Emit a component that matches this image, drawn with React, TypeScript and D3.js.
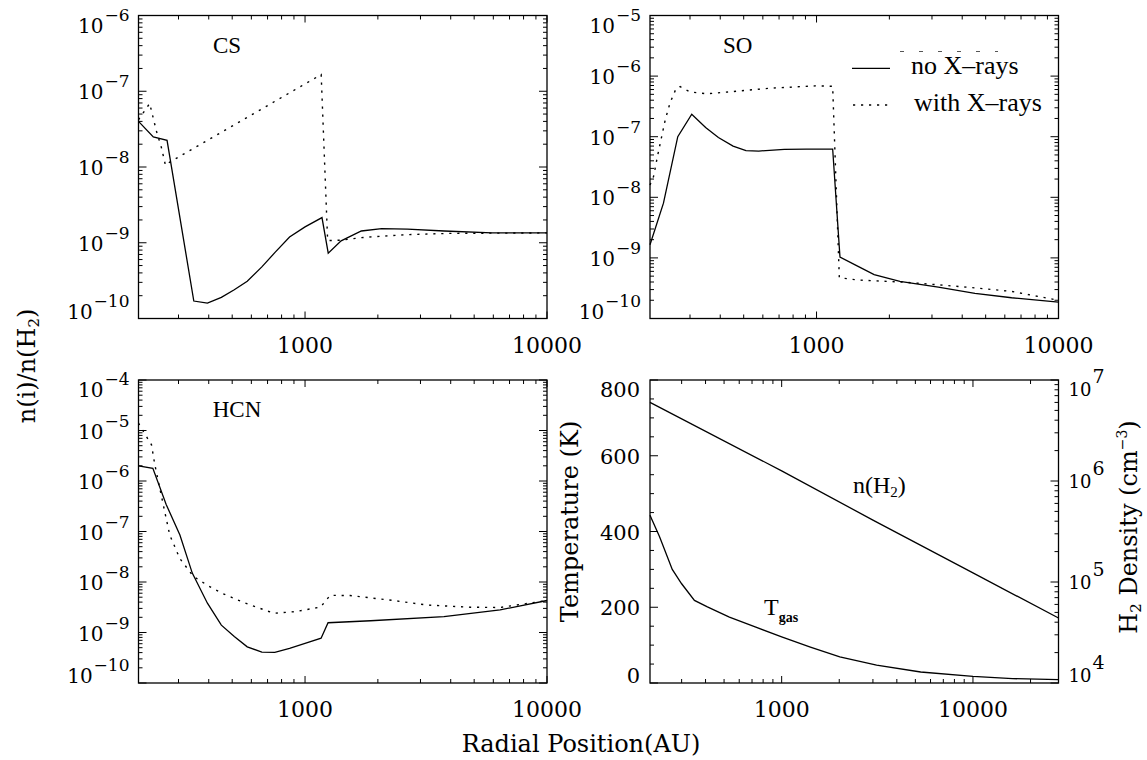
import * as d3 from 'd3';

type Pt = [number, number];

// radius (AU), fractional abundance n(i)/n(H2)
const csNoXrays: Pt[] = [
  [205, 4.0e-8], [236, 2.5e-8], [269, 2.25e-8], [347, 1.7e-10], [395, 1.6e-10],
  [451, 1.9e-10], [510, 2.4e-10], [577, 3.1e-10], [663, 4.8e-10], [750, 7.4e-10],
  [863, 1.19e-9], [1000, 1.62e-9], [1175, 2.15e-9], [1247, 7.3e-10], [1410, 1.06e-9],
  [1709, 1.43e-9], [2074, 1.54e-9], [2650, 1.51e-9], [3760, 1.43e-9], [5930, 1.35e-9],
  [10000, 1.35e-9],
];
const csWithXrays: Pt[] = [
  [205, 4.2e-8], [228, 6.9e-8], [243, 3.0e-8], [255, 1.8e-8], [265, 1.05e-8],
  [276, 1.16e-8], [1166, 1.66e-7], [1240, 1.07e-9], [1410, 1.08e-9], [1709, 1.17e-9],
  [2074, 1.22e-9], [2650, 1.28e-9], [4000, 1.33e-9], [10000, 1.35e-9],
];

const soNoXrays: Pt[] = [
  [205, 1.65e-9], [233, 8e-9], [267, 1.0e-7], [305, 2.35e-7], [348, 1.42e-7],
  [393, 9.7e-8], [452, 7.0e-8], [511, 5.9e-8], [577, 5.8e-8], [736, 6.2e-8],
  [908, 6.25e-8], [1166, 6.25e-8], [1250, 1.03e-9], [1478, 7.3e-10], [1730, 5.3e-10],
  [2210, 4.1e-10], [3185, 3.3e-10], [4515, 2.6e-10], [6400, 2.2e-10], [10000, 1.86e-10],
];
const soWithXrays: Pt[] = [
  [205, 1.6e-8], [212, 2.2e-8], [220, 4.7e-8], [237, 1.9e-7], [248, 3.6e-7],
  [263, 6.3e-7], [273, 6.7e-7], [300, 5.5e-7], [351, 5.1e-7], [437, 5.5e-7],
  [638, 6.3e-7], [986, 6.9e-7], [1166, 6.8e-7], [1242, 4.7e-10], [1500, 4.3e-10],
  [2250, 4.0e-10], [3185, 3.6e-10], [4515, 3.2e-10], [6400, 2.8e-10], [10000, 2.0e-10],
];

const hcnNoXrays: Pt[] = [
  [205, 2.0e-6], [235, 1.78e-6], [267, 3.4e-7], [304, 8.5e-8], [342, 1.5e-8],
  [395, 3.8e-9], [451, 1.4e-9], [510, 8.3e-10], [577, 5.2e-10], [663, 4.1e-10],
  [750, 4.05e-10], [863, 4.85e-10], [1000, 6.1e-10], [1165, 7.7e-10], [1245, 1.56e-9],
  [1866, 1.71e-9], [3750, 2.06e-9], [6400, 2.8e-9], [7580, 3.3e-9], [10000, 4.3e-9],
];
const hcnWithXrays: Pt[] = [
  [205, 1.4e-5], [217, 8.8e-6], [232, 5.2e-6], [239, 2.2e-6], [251, 7.2e-7],
  [263, 2.5e-7], [276, 8.5e-8], [304, 2.9e-8], [345, 1.3e-8], [400, 8.3e-9],
  [453, 6.0e-9], [560, 3.9e-9], [743, 2.4e-9], [918, 2.6e-9], [1160, 3.2e-9],
  [1270, 5.45e-9], [1535, 5.4e-9], [2320, 4.3e-9], [3190, 3.5e-9], [4820, 3.17e-9],
  [6400, 3.13e-9], [10000, 4.3e-9],
];

// model: gas temperature (K) and H2 density (cm^-3)
const gasTemperature: Pt[] = [
  [205, 443], [230, 386], [268, 300], [300, 262], [350, 218], [409, 201],
  [533, 174], [727, 148], [1000, 122], [1413, 95], [2013, 69], [3135, 47],
  [5330, 29], [10000, 17.6], [16100, 11.5], [28000, 8.8],
];
const h2Density: Pt[] = [
  [205, 6.0e6], [1000, 1.26e6], [3000, 4.1e5], [10000, 1.23e5], [28000, 4.4e4],
];

// tick labels
const radialLabels = [1000, 10000];
const csDecades = [-10, -9, -8, -7, -6];
const soDecades = [-10, -9, -8, -7, -6, -5];
const hcnDecades = [-10, -9, -8, -7, -6, -5, -4];
const temperatureLabels = [0, 200, 400, 600, 800];
const densityDecades = [4, 5, 6, 7];

type Box = { left: number; right: number; top: number; bottom: number };
const TL: Box = { left: 138.5, right: 547, top: 15.5, bottom: 318.5 };
const TR: Box = { left: 650, right: 1058.5, top: 15.5, bottom: 318.5 };
const BL: Box = { left: 138.5, right: 547, top: 380, bottom: 683 };
const BR: Box = { left: 650, right: 1058.5, top: 380, bottom: 683 };

const AXIS_FONT = '"DejaVu Serif", serif';
const TEXT_FONT = '"Liberation Serif", "Times New Roman", serif';
const DOTS = '2.2 5.8';

const isDecade = (v: number) => {
  const l = Math.log10(v);
  return Math.abs(l - Math.round(l)) < 1e-6;
};

// IDL pushes the end labels inside the axis range
const labelShift = (i: number, n: number) => (i === 0 ? 0 : i === n - 1 ? 17 : 8);

type PowProps = {
  x: number;
  y: number;
  exp: number;
  anchor: 'start' | 'end';
  base?: number;
  sup?: number;
  rise?: number;
};

function PowLabel({ x, y, exp, anchor, base = 20, sup = 17, rise = 12 }: PowProps) {
  const e = exp < 0 ? `\u2212${-exp}` : `${exp}`;
  return (
    <text x={x} y={y} textAnchor={anchor} fontFamily={AXIS_FONT} fontSize={base}>
      10
      <tspan dy={-rise} dx={1} fontSize={sup}>
        {e}
      </tspan>
    </text>
  );
}

function XTicks({ scale, box }: { scale: d3.ScaleLogarithmic<number, number>; box: Box }) {
  return (
    <g stroke="#000" strokeWidth={1}>
      {scale.ticks().map((t, i) => {
        const len = isDecade(t) ? 7 : 4;
        const px = scale(t);
        return (
          <g key={i}>
            <line x1={px} x2={px} y1={box.bottom} y2={box.bottom - len} />
            <line x1={px} x2={px} y1={box.top} y2={box.top + len} />
          </g>
        );
      })}
    </g>
  );
}

function XLabels({ scale, box }: { scale: d3.ScaleLogarithmic<number, number>; box: Box }) {
  return (
    <g fontFamily={AXIS_FONT} fontSize={22} textAnchor="middle">
      {radialLabels.map((t) => (
        <text key={t} x={scale(t)} y={box.bottom + 34}>
          {t}
        </text>
      ))}
    </g>
  );
}

function LogYTicks({ scale, x, dir }: { scale: d3.ScaleLogarithmic<number, number>; x: number; dir: number }) {
  return (
    <g stroke="#000" strokeWidth={1}>
      {scale.ticks().map((t, i) => {
        const len = isDecade(t) ? 8 : 4;
        const py = scale(t);
        return <line key={i} x1={x} x2={x + dir * len} y1={py} y2={py} />;
      })}
    </g>
  );
}

type PanelProps = {
  box: Box;
  decades: number[];
  name: string;
  nameAt: Pt;
  solid: Pt[];
  dotted: Pt[];
};

function AbundancePanel({ box, decades, name, nameAt, solid, dotted }: PanelProps) {
  const x = d3.scaleLog().domain([205, 10000]).range([box.left, box.right]);
  const y = d3
    .scaleLog()
    .domain([10 ** decades[0], 10 ** decades[decades.length - 1]])
    .range([box.bottom, box.top]);
  const line = d3
    .line<Pt>()
    .x((d) => x(d[0]))
    .y((d) => y(d[1]));
  return (
    <g>
      <path d={line(solid) ?? ''} fill="none" stroke="#000" strokeWidth={1.3} />
      <path d={line(dotted) ?? ''} fill="none" stroke="#000" strokeWidth={1.4} strokeDasharray={DOTS} />
      <rect
        x={box.left}
        y={box.top}
        width={box.right - box.left}
        height={box.bottom - box.top}
        fill="none"
        stroke="#000"
        strokeWidth={1.3}
      />
      <XTicks scale={x} box={box} />
      <LogYTicks scale={y} x={box.left} dir={1} />
      <LogYTicks scale={y} x={box.right} dir={-1} />
      <XLabels scale={x} box={box} />
      {decades.map((d, i) => (
        <PowLabel key={d} x={box.left - 9} y={y(10 ** d) + labelShift(i, decades.length)} exp={d} anchor="end" />
      ))}
      <text x={nameAt[0]} y={nameAt[1]} fontFamily={TEXT_FONT} fontSize={23}>
        {name}
      </text>
    </g>
  );
}

function ModelPanel({ box }: { box: Box }) {
  const x = d3.scaleLog().domain([205, 28000]).range([box.left, box.right]);
  const yT = d3.scaleLinear().domain([0, 800]).range([box.bottom, box.top]);
  const yN = d3.scaleLog().domain([1e4, 1e7]).range([box.bottom, box.top]);
  const tLine = d3
    .line<Pt>()
    .x((d) => x(d[0]))
    .y((d) => yT(d[1]));
  const nLine = d3
    .line<Pt>()
    .x((d) => x(d[0]))
    .y((d) => yN(d[1]));
  return (
    <g>
      <path d={tLine(gasTemperature) ?? ''} fill="none" stroke="#000" strokeWidth={1.3} />
      <path d={nLine(h2Density) ?? ''} fill="none" stroke="#000" strokeWidth={1.3} />
      <rect
        x={box.left}
        y={box.top}
        width={box.right - box.left}
        height={box.bottom - box.top}
        fill="none"
        stroke="#000"
        strokeWidth={1.3}
      />
      <XTicks scale={x} box={box} />
      <g stroke="#000" strokeWidth={1}>
        {yT.ticks(16).map((t) => {
          const len = t % 200 === 0 ? 8 : 4;
          return <line key={t} x1={box.left} x2={box.left + len} y1={yT(t)} y2={yT(t)} />;
        })}
      </g>
      <LogYTicks scale={yN} x={box.right} dir={-1} />
      <XLabels scale={x} box={box} />
      <g fontFamily={AXIS_FONT} fontSize={21} textAnchor="end">
        {temperatureLabels.map((t, i) => (
          <text key={t} x={box.left - 10} y={yT(t) + labelShift(i, temperatureLabels.length)}>
            {t}
          </text>
        ))}
      </g>
      {densityDecades.map((d, i) => (
        <PowLabel
          key={d}
          x={box.right + 10}
          y={yN(10 ** d) + labelShift(i, densityDecades.length) - 1}
          exp={d}
          anchor="start"
          base={18}
          sup={19}
          rise={13}
        />
      ))}
      <text x={853} y={493} fontFamily={TEXT_FONT} fontSize={24}>
        n(H
        <tspan fontSize={15} dy={4}>
          2
        </tspan>
        <tspan dy={-4}>)</tspan>
      </text>
      <text x={764} y={615} fontFamily={TEXT_FONT} fontSize={24}>
        T
        <tspan fontSize={14} fontWeight="bold" dy={7}>
          gas
        </tspan>
      </text>
    </g>
  );
}

function Legend() {
  return (
    <g fontFamily={TEXT_FONT} fontSize={26}>
      <line x1={900} x2={998} y1={51.5} y2={51.5} stroke="#555" strokeWidth={1} strokeDasharray="4 15" />
      <line x1={852} x2={890} y1={68.3} y2={68.3} stroke="#000" strokeWidth={1.3} />
      <text x={911} y={74}>
        no X{'\u2013'}rays
      </text>
      <line x1={853} x2={892} y1={105} y2={105} stroke="#000" strokeWidth={1.4} strokeDasharray={DOTS} />
      <text x={914} y={111}>
        with X{'\u2013'}rays
      </text>
    </g>
  );
}

export default function App() {
  return (
    <svg
      width={1147}
      height={760}
      viewBox="0 0 1147 760"
      style={{ position: 'absolute', left: 0, top: 0, display: 'block', background: '#fff' }}
    >
      <rect width={1147} height={760} fill="#fff" />
      <AbundancePanel box={TL} decades={csDecades} name="CS" nameAt={[213, 52.7]} solid={csNoXrays} dotted={csWithXrays} />
      <AbundancePanel box={TR} decades={soDecades} name="SO" nameAt={[723, 52.7]} solid={soNoXrays} dotted={soWithXrays} />
      <AbundancePanel box={BL} decades={hcnDecades} name="HCN" nameAt={[212.7, 416.7]} solid={hcnNoXrays} dotted={hcnWithXrays} />
      <ModelPanel box={BR} />
      <Legend />

      <g fontFamily={AXIS_FONT} fontSize={24}>
        <text transform="translate(35,366) rotate(-90)" textAnchor="middle">
          n(i)/n(H
          <tspan fontSize={15} dy={4}>
            2
          </tspan>
          <tspan dy={-4}>)</tspan>
        </text>
        <text x={581} y={752} textAnchor="middle">
          Radial Position(AU)
        </text>
        <text transform="translate(578,521.5) rotate(-90)" textAnchor="middle">
          Temperature (K)
        </text>
        <text transform="translate(1137,527) rotate(-90)" textAnchor="middle">
          H
          <tspan fontSize={15} dy={4}>
            2
          </tspan>
          <tspan dy={-4}> Density (cm</tspan>
          <tspan fontSize={14} dy={-10}>
            {'\u2212'}3
          </tspan>
          <tspan dy={10}>)</tspan>
        </text>
      </g>
    </svg>
  );
}
